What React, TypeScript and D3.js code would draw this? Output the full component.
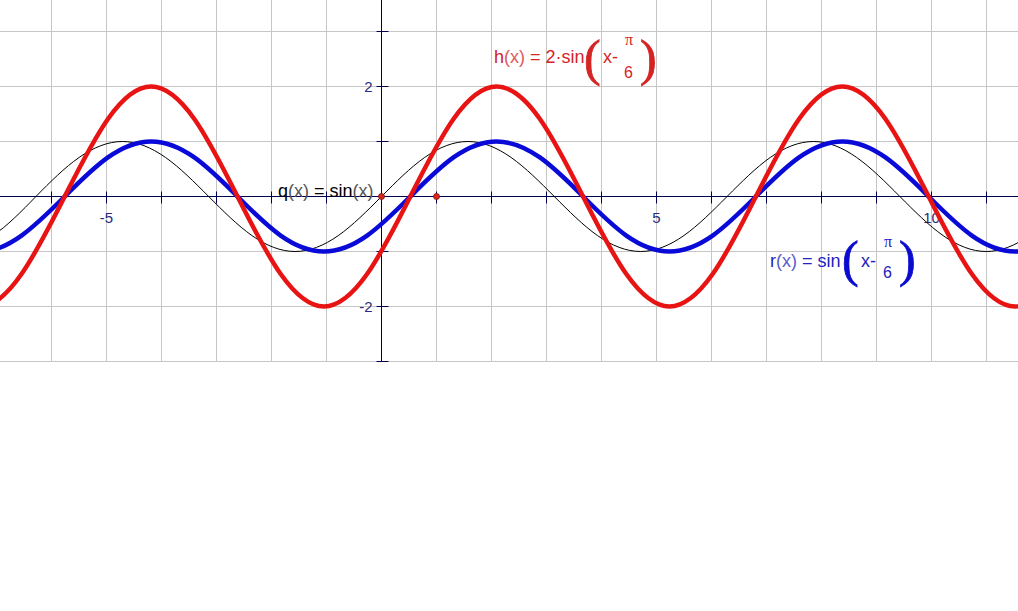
import React from "react";
import * as d3 from "d3";

// Knot points (every eighth of a period)
const rX = [-8.115, -7.33, -6.545, -5.76, -4.974, -4.189, -3.403, -2.618, -1.833, -1.047, -0.262, 0.524, 1.309, 2.094, 2.88, 3.665, 4.451, 5.236, 6.021, 6.807, 7.592, 8.378, 9.163, 9.948, 10.734, 11.519, 12.305, 13.09];
const rY = [-0.71, -1, -0.71, 0, 0.71, 1, 0.71, 0, -0.71, -1, -0.71, 0, 0.71, 1, 0.71, 0, -0.71, -1, -0.71, 0, 0.71, 1, 0.71, 0, -0.71, -1, -0.71, 0];
const hX = rX;
const hY = [-1.41, -2, -1.41, 0, 1.41, 2, 1.41, 0, -1.41, -2, -1.41, 0, 1.41, 2, 1.41, 0, -1.41, -2, -1.41, 0, 1.41, 2, 1.41, 0, -1.41, -2, -1.41, 0];
const qX = [-7.854, -7.069, -6.283, -5.498, -4.712, -3.927, -3.142, -2.356, -1.571, -0.785, 0, 0.785, 1.571, 2.356, 3.142, 3.927, 4.712, 5.498, 6.283, 7.069, 7.854, 8.639, 9.425, 10.21, 10.996, 11.781, 12.566];
const qY = [-1, -0.71, 0, 0.71, 1, 0.71, 0, -0.71, -1, -0.71, 0, 0.71, 1, 0.71, 0, -0.71, -1, -0.71, 0, 0.71, 1, 0.71, 0, -0.71, -1, -0.71, 0];

const pointsX = [0, 1];
const pointsY = [0, 0];

const xGrid = d3.range(-6, 12);
const yGrid = d3.range(-3, 4);
const xTickLabels = [-5, 5, 10];
const yTickLabels = [2, -2];

const W = 1018;
const H = 611;

export default function App() {
  const x = d3.scaleLinear().domain([-7, 12]).range([381.5 - 385, 381.5 + 660]);
  const y = d3.scaleLinear().domain([-3, 3]).range([361.5, 31.5]);

  const line = d3
    .line<[number, number]>()
    .x((d) => x(d[0]))
    .y((d) => y(d[1]))
    .curve(d3.curveNatural);

  const zip = (a: number[], b: number[]) => a.map((v, i) => [v, b[i]] as [number, number]);

  const gridColor = "#c6c6c6";
  const axisColor = "#000050";
  const tickColor = "#2a2a80";
  const font = "Arial, 'Liberation Sans', sans-serif";
  const serif = "'Times New Roman', 'Liberation Serif', serif";

  const redCurve = "#e81414";
  const blueCurve = "#0a0ad8";
  const redText = "#d42424";
  const blueText = "#2222c0";

  return (
    <svg
      width={W}
      height={H}
      style={{ position: "absolute", left: 0, top: 0, background: "#fff" }}
    >
      <rect x={0} y={0} width={W} height={H} fill="#fff" />
      {/* grid */}
      <g stroke={gridColor} strokeWidth={1}>
        {xGrid.map((v) => (
          <line key={"gx" + v} x1={x(v)} x2={x(v)} y1={0} y2={y(-3)} />
        ))}
        {yGrid.map((v) => (
          <line key={"gy" + v} x1={0} x2={W} y1={y(v)} y2={y(v)} />
        ))}
      </g>
      {/* axes */}
      <g stroke={axisColor} strokeWidth={1}>
        <line x1={0} x2={W} y1={y(0)} y2={y(0)} />
        <line x1={x(0)} x2={x(0)} y1={0} y2={y(-3)} />
        {xGrid
          .filter((v) => v !== 0)
          .map((v) => (
            <line key={"tx" + v} x1={x(v)} x2={x(v)} y1={y(0) - 5} y2={y(0) + 7} />
          ))}
        {yGrid
          .filter((v) => v !== 0)
          .map((v) => (
            <line key={"ty" + v} x1={x(0) - 5} x2={x(0) + 7} y1={y(v)} y2={y(v)} />
          ))}
      </g>
      {/* tick labels */}
      <g fill={tickColor} fontFamily={font} fontSize={15}>
        {xTickLabels.map((v) => (
          <text key={"lx" + v} x={x(v)} y={y(0) + 26} textAnchor="middle">
            {v < 0 ? "-" + Math.abs(v) : String(v)}
          </text>
        ))}
        {yTickLabels.map((v) => (
          <text key={"ly" + v} x={x(0) - 9} y={y(v) + 5.5} textAnchor="end">
            {v < 0 ? "-" + Math.abs(v) : String(v)}
          </text>
        ))}
      </g>
      {/* curves */}
      <path d={line(zip(qX, qY)) || ""} fill="none" stroke="#000" strokeWidth={1} />
      <path d={line(zip(rX, rY)) || ""} fill="none" stroke={blueCurve} strokeWidth={4.5} />
      <path d={line(zip(hX, hY)) || ""} fill="none" stroke={redCurve} strokeWidth={4.5} />
      {/* points */}
      {pointsX.map((v, i) => (
        <circle key={"p" + i} cx={x(v)} cy={y(pointsY[i])} r={3} fill="#d8281c" stroke="#7a1010" strokeWidth={0.8} />
      ))}
      {/* labels */}
      <text x={278} y={197} fontFamily={font} fontSize={18} fill="#000">
        q<tspan fill="#555">(x)</tspan> = sin<tspan fill="#555">(x)</tspan>
      </text>

      <g fill={redText}>
        <text x={494} y={63} fontFamily={font} fontSize={18}>
          h<tspan fill="#dd5a5a">(x)</tspan> = 2·sin
        </text>
        <text x={584} y={75} fontFamily={serif} fontSize={50} stroke={redText} strokeWidth={0.8}>(</text>
        <text x={603} y={63} fontFamily={font} fontSize={18}>x-</text>
        <text x={625} y={45} fontFamily={serif} fontSize={16}>π</text>
        <text x={624} y={78} fontFamily={font} fontSize={16}>6</text>
        <text x={640} y={75} fontFamily={serif} fontSize={50} stroke={redText} strokeWidth={0.8}>)</text>
      </g>

      <g fill={blueText}>
        <text x={770} y={267} fontFamily={font} fontSize={18}>
          r<tspan fill="#5a5ad0">(x)</tspan> = sin
        </text>
        <text x={842} y={276} fontFamily={serif} fontSize={50} fill="#0a0ad0" stroke="#0a0ad0" strokeWidth={0.8}>(</text>
        <text x={861} y={267} fontFamily={font} fontSize={18}>x-</text>
        <text x={884} y={247} fontFamily={serif} fontSize={16}>π</text>
        <text x={883} y={278} fontFamily={font} fontSize={16}>6</text>
        <text x={899} y={276} fontFamily={serif} fontSize={50} fill="#0a0ad0" stroke="#0a0ad0" strokeWidth={0.8}>)</text>
      </g>
    </svg>
  );
}
